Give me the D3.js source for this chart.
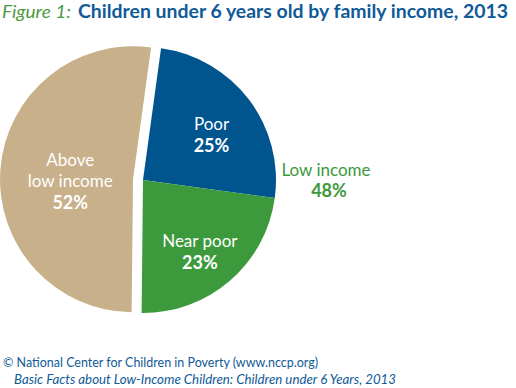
<!DOCTYPE html>
<html>
<head>
<meta charset="utf-8">
<script src="https://cdn.jsdelivr.net/npm/d3@7"></script>
<style>
  body { margin: 0; background: #fff; }
  svg { display: block; }
  text { font-family: Lato, "Open Sans", sans-serif; }
</style>
</head>
<body>
<div id="chart"><svg></svg></div>
<script>
// slice values, clockwise from the top
var categories = ['Poor', 'Near poor', 'Above low income'];
var labelLines = [['Poor'], ['Near poor'], ['Above', 'low income']];
var values = [25, 23, 52];
var groupLabel = 'Low income';
var groupValue = 48;

var colors = ['#00558f', '#3d9a3c', '#c8b08a'];

var width = 516, height = 388;
var svg = d3.select('#chart svg').attr('width', width).attr('height', height);

// title
svg.append('text')
  .attr('x', 2).attr('y', 18)
  .attr('font-size', 18)
  .attr('font-family', '"Liberation Serif", serif')
  .attr('font-style', 'italic')
  .attr('fill', '#4b9b40')
  .attr('textLength', 69)
  .attr('lengthAdjust', 'spacingAndGlyphs')
  .text('Figure 1:');
svg.append('text')
  .attr('x', 78).attr('y', 18)
  .attr('font-size', 18)
  .attr('font-weight', 'bold')
  .attr('fill', '#0f5a97')
  .attr('textLength', 430)
  .attr('lengthAdjust', 'spacingAndGlyphs')
  .text('Children under 6 years old by family income, 2013');

// pie
var cx = 143, cy = 180, r = 133, explode = 10;
var startDeg = 7.8;

var pie = d3.pie()
  .sort(null)
  .value(function(d) { return d; })
  .startAngle(startDeg * Math.PI / 180)
  .endAngle((startDeg + 360) * Math.PI / 180);

var arcs = pie(values);
var arc = d3.arc().innerRadius(0).outerRadius(r);

var g = svg.append('g').attr('transform', 'translate(' + cx + ',' + cy + ')');

function offset(d, i) {
  if (i !== 2) return [0, 0];
  var a = (d.startAngle + d.endAngle) / 2;
  return [explode * Math.sin(a), -explode * Math.cos(a)];
}

g.selectAll('path.slice')
  .data(arcs)
  .enter()
  .append('path')
  .attr('class', 'slice')
  .attr('d', arc)
  .attr('fill', function(d, i) { return colors[i]; })
  .attr('transform', function(d, i) {
    var o = offset(d, i);
    return 'translate(' + o[0] + ',' + o[1] + ')';
  });

// labels inside slices
var labelRadius = [86, 87, 63];
arcs.forEach(function(d, i) {
  var o = offset(d, i);
  var la = d3.arc().innerRadius(labelRadius[i]).outerRadius(labelRadius[i]);
  var c = la.centroid(d);
  var x = c[0] + o[0], y = c[1] + o[1];
  var lines = labelLines[i];
  var lineH = 21;
  var top = y - (lines.length * lineH) / 2;
  var t = g.append('text')
    .attr('text-anchor', 'middle')
    .attr('fill', '#fff');
  lines.forEach(function(s, k) {
    t.append('tspan')
      .attr('x', x)
      .attr('y', top + k * lineH + 12)
      .attr('font-size', 17)
      .text(s);
  });
  t.append('tspan')
    .attr('x', x)
    .attr('y', top + lines.length * lineH + 13)
    .attr('font-size', 18)
    .attr('font-weight', 'bold')
    .text(values[i] + '%');
});

// low income group label
var gx = r + 50, gy = 0;
var gt = g.append('text').attr('text-anchor', 'middle').attr('fill', '#3d9a3c');
gt.append('tspan').attr('x', gx).attr('y', gy - 4).attr('font-size', 17).text(groupLabel);
gt.append('tspan').attr('x', gx + 3).attr('y', gy + 17).attr('font-size', 18)
  .attr('font-weight', 'bold').text(groupValue + '%');

// source
svg.append('text')
  .attr('x', 3).attr('y', 367)
  .attr('font-size', 13)
  .attr('fill', '#0f5a97')
  .attr('textLength', 315)
  .attr('lengthAdjust', 'spacingAndGlyphs')
  .text('\u00a9 National Center for Children in Poverty (www.nccp.org)');
svg.append('text')
  .attr('x', 14).attr('y', 384)
  .attr('font-size', 13)
  .attr('font-style', 'italic')
  .attr('fill', '#0f5a97')
  .attr('textLength', 382)
  .attr('lengthAdjust', 'spacingAndGlyphs')
  .text('Basic Facts about Low-Income Children: Children under 6 Years, 2013');
</script>
</body>
</html>
